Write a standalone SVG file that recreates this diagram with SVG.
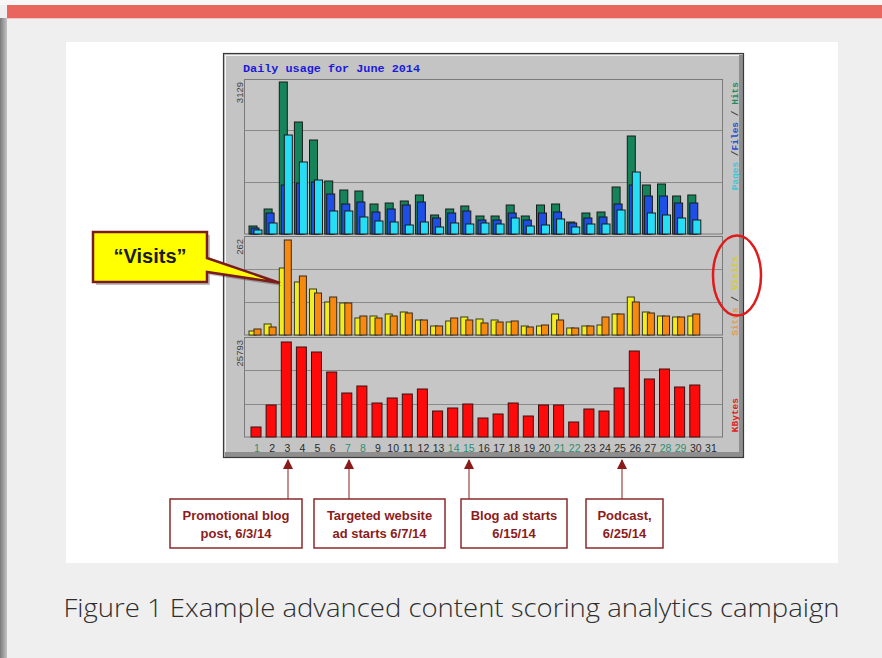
<svg xmlns="http://www.w3.org/2000/svg" width="882" height="658" viewBox="0 0 882 658">
<defs>
<linearGradient id="strip" x1="0" y1="0" x2="1" y2="0"><stop offset="0" stop-color="#7a7a7a"/><stop offset="1" stop-color="#c4c4c4"/></linearGradient>
<marker id="ah" viewBox="0 0 10 10" refX="9" refY="5" markerWidth="7" markerHeight="7" orient="auto"><path d="M0,0 L10,5 L0,10 Z" fill="#8b1a1a"/></marker>
</defs>
<style>
.h{fill:#15845a;stroke:#1a1a1a;stroke-width:1}
.f{fill:#1d4fe6;stroke:#1a1a1a;stroke-width:1}
.p{fill:#25def6;stroke:#1a1a1a;stroke-width:1}
.v{fill:#f2ee1c;stroke:#3a3a1a;stroke-width:1}
.s{fill:#f7890f;stroke:#3a2a1a;stroke-width:1}
.k{fill:#ff0a0a;stroke:#3a1010;stroke-width:1}
.grid{stroke:#8a8a8a;stroke-width:1}
.panel{fill:#c6c6c6;stroke:#7a7a7a;stroke-width:1}
.day{font-family:"Liberation Sans",Arial,sans-serif;font-size:10.5px;fill:#2a2a2a;text-anchor:middle}
.we{fill:#2f8f6f}
.ax{font-family:"Liberation Sans",Arial,sans-serif;font-size:9.5px;fill:#444;text-anchor:end}
.lg{font-family:"Liberation Mono",monospace;font-size:9.5px;font-weight:bold;text-anchor:end}
.box{fill:#ffffff;stroke:#8b2a2a;stroke-width:1.5}
.bt{font-family:"Liberation Sans",Arial,sans-serif;font-size:13px;font-weight:bold;fill:#8b1c1c;text-anchor:middle}
.conn{stroke:#b06a6a;stroke-width:1.5;fill:none}
</style>
<rect x="0" y="0" width="882" height="658" fill="#efefef"/>
<rect x="0" y="0" width="882" height="5" fill="#f7f7f7"/>
<rect x="7" y="5" width="875" height="13" fill="#e8665e"/>
<rect x="7" y="18" width="875" height="1" fill="#f3c6c2"/>
<rect x="0" y="18" width="7" height="640" fill="url(#strip)"/>
<rect x="66" y="42" width="772" height="521" fill="#ffffff"/>

<g id="chart">
<rect x="223" y="53" width="521" height="405" fill="#c4c4c4"/>
<rect x="739" y="55" width="5" height="403" fill="#8e8e8e"/>
<rect x="225" y="452" width="519" height="6" fill="#8e8e8e"/>
<line x1="225" y1="55.5" x2="739" y2="55.5" stroke="#f4f4f4"/>
<line x1="225.5" y1="55" x2="225.5" y2="452" stroke="#f4f4f4"/>
<rect x="223.5" y="53.5" width="520" height="404" fill="none" stroke="#3a3a3a" stroke-width="1.2"/>
<text x="243" y="72" font-family="Liberation Mono,monospace" font-size="11.8" font-weight="bold" fill="#1b1bd8">Daily usage for June 2014</text>
<rect class="panel" x="244.5" y="79.5" width="478" height="154.5"/>
<rect class="panel" x="244.5" y="236.5" width="478" height="98.5"/>
<rect class="panel" x="244.5" y="337.5" width="478" height="99.5"/>
<line class="grid" x1="245" y1="130.5" x2="722" y2="130.5"/>
<line class="grid" x1="245" y1="182.5" x2="722" y2="182.5"/>
<line class="grid" x1="245" y1="269.5" x2="722" y2="269.5"/>
<line class="grid" x1="245" y1="302.5" x2="722" y2="302.5"/>
<line class="grid" x1="245" y1="370.5" x2="722" y2="370.5"/>
<line class="grid" x1="245" y1="404.5" x2="722" y2="404.5"/>
<text class="ax" transform="translate(243,82) rotate(-90)">3129</text>
<text class="ax" transform="translate(243,239) rotate(-90)">262</text>
<text class="ax" transform="translate(243,340) rotate(-90)">25793</text>
<text class="lg" transform="translate(738,82) rotate(-90)"><tspan fill="#3fc6d8">Pages</tspan><tspan fill="#333"> /</tspan><tspan fill="#2a4fd0">Files</tspan><tspan fill="#333"> / </tspan><tspan fill="#1f8a5f">Hits</tspan></text>
<text class="lg" transform="translate(738,256) rotate(-90)"><tspan fill="#e59a55">Sites</tspan><tspan fill="#333"> / </tspan><tspan fill="#d8cf1a">Visits</tspan></text>
<text class="lg" transform="translate(738,398) rotate(-90)" fill="#e02020">KBytes</text>
</g>

<g id="bars">
<g transform="translate(257,0)"><rect class="h" x="-8" y="226" width="8" height="8"/><rect class="f" x="-6" y="228" width="8" height="6"/><rect class="p" x="-3" y="230" width="8" height="4"/><rect class="v" x="-8" y="331" width="7" height="4"/><rect class="s" x="-3" y="329" width="7" height="6"/><rect class="k" x="-6" y="427" width="10" height="10"/></g>
<g transform="translate(272.1,0)"><rect class="h" x="-8" y="209" width="8" height="25"/><rect class="f" x="-6" y="213" width="8" height="21"/><rect class="p" x="-3" y="223" width="8" height="11"/><rect class="v" x="-8" y="324" width="7" height="11"/><rect class="s" x="-3" y="327" width="7" height="8"/><rect class="k" x="-6" y="405" width="10" height="32"/></g>
<g transform="translate(287.3,0)"><rect class="h" x="-8" y="82" width="8" height="152"/><rect class="f" x="-6" y="185" width="8" height="49"/><rect class="p" x="-3" y="135" width="8" height="99"/><rect class="v" x="-8" y="268" width="7" height="67"/><rect class="s" x="-3" y="240" width="7" height="95"/><rect class="k" x="-6" y="342" width="10" height="95"/></g>
<g transform="translate(302.4,0)"><rect class="h" x="-8" y="122" width="8" height="112"/><rect class="f" x="-6" y="183" width="8" height="51"/><rect class="p" x="-3" y="162" width="8" height="72"/><rect class="v" x="-8" y="282" width="7" height="53"/><rect class="s" x="-3" y="276" width="7" height="59"/><rect class="k" x="-6" y="347" width="10" height="90"/></g>
<g transform="translate(317.5,0)"><rect class="h" x="-8" y="140" width="8" height="94"/><rect class="f" x="-6" y="182" width="8" height="52"/><rect class="p" x="-3" y="180" width="8" height="54"/><rect class="v" x="-8" y="289" width="7" height="46"/><rect class="s" x="-3" y="293" width="7" height="42"/><rect class="k" x="-6" y="352" width="10" height="85"/></g>
<g transform="translate(332.7,0)"><rect class="h" x="-8" y="181" width="8" height="53"/><rect class="f" x="-6" y="194" width="8" height="40"/><rect class="p" x="-3" y="211" width="8" height="23"/><rect class="v" x="-8" y="302" width="7" height="33"/><rect class="s" x="-3" y="297" width="7" height="38"/><rect class="k" x="-6" y="372" width="10" height="65"/></g>
<g transform="translate(347.8,0)"><rect class="h" x="-8" y="190" width="8" height="44"/><rect class="f" x="-6" y="204" width="8" height="30"/><rect class="p" x="-3" y="211" width="8" height="23"/><rect class="v" x="-8" y="303" width="7" height="32"/><rect class="s" x="-3" y="303" width="7" height="32"/><rect class="k" x="-6" y="393" width="10" height="44"/></g>
<g transform="translate(362.9,0)"><rect class="h" x="-8" y="191" width="8" height="43"/><rect class="f" x="-6" y="202" width="8" height="32"/><rect class="p" x="-3" y="217" width="8" height="17"/><rect class="v" x="-8" y="318" width="7" height="17"/><rect class="s" x="-3" y="316" width="7" height="19"/><rect class="k" x="-6" y="386" width="10" height="51"/></g>
<g transform="translate(378,0)"><rect class="h" x="-8" y="204" width="8" height="30"/><rect class="f" x="-6" y="212" width="8" height="22"/><rect class="p" x="-3" y="221" width="8" height="13"/><rect class="v" x="-8" y="316" width="7" height="19"/><rect class="s" x="-3" y="318" width="7" height="17"/><rect class="k" x="-6" y="403" width="10" height="34"/></g>
<g transform="translate(393.2,0)"><rect class="h" x="-8" y="203" width="8" height="31"/><rect class="f" x="-6" y="209" width="8" height="25"/><rect class="p" x="-3" y="222" width="8" height="12"/><rect class="v" x="-8" y="314" width="7" height="21"/><rect class="s" x="-3" y="316" width="7" height="19"/><rect class="k" x="-6" y="398" width="10" height="39"/></g>
<g transform="translate(408.3,0)"><rect class="h" x="-8" y="201" width="8" height="33"/><rect class="f" x="-6" y="205" width="8" height="29"/><rect class="p" x="-3" y="225" width="8" height="9"/><rect class="v" x="-8" y="312" width="7" height="23"/><rect class="s" x="-3" y="313" width="7" height="22"/><rect class="k" x="-6" y="394" width="10" height="43"/></g>
<g transform="translate(423.4,0)"><rect class="h" x="-8" y="195" width="8" height="39"/><rect class="f" x="-6" y="202" width="8" height="32"/><rect class="p" x="-3" y="222" width="8" height="12"/><rect class="v" x="-8" y="320" width="7" height="15"/><rect class="s" x="-3" y="320" width="7" height="15"/><rect class="k" x="-6" y="389" width="10" height="48"/></g>
<g transform="translate(438.6,0)"><rect class="h" x="-8" y="215" width="8" height="19"/><rect class="f" x="-6" y="218" width="8" height="16"/><rect class="p" x="-3" y="227" width="8" height="7"/><rect class="v" x="-8" y="326" width="7" height="9"/><rect class="s" x="-3" y="326" width="7" height="9"/><rect class="k" x="-6" y="411" width="10" height="26"/></g>
<g transform="translate(453.7,0)"><rect class="h" x="-8" y="209" width="8" height="25"/><rect class="f" x="-6" y="213" width="8" height="21"/><rect class="p" x="-3" y="223" width="8" height="11"/><rect class="v" x="-8" y="321" width="7" height="14"/><rect class="s" x="-3" y="318" width="7" height="17"/><rect class="k" x="-6" y="408" width="10" height="29"/></g>
<g transform="translate(468.8,0)"><rect class="h" x="-8" y="206" width="8" height="28"/><rect class="f" x="-6" y="211" width="8" height="23"/><rect class="p" x="-3" y="224" width="8" height="10"/><rect class="v" x="-8" y="317" width="7" height="18"/><rect class="s" x="-3" y="320" width="7" height="15"/><rect class="k" x="-6" y="404" width="10" height="33"/></g>
<g transform="translate(484,0)"><rect class="h" x="-8" y="216" width="8" height="18"/><rect class="f" x="-6" y="220" width="8" height="14"/><rect class="p" x="-3" y="223" width="8" height="11"/><rect class="v" x="-8" y="319" width="7" height="16"/><rect class="s" x="-3" y="323" width="7" height="12"/><rect class="k" x="-6" y="418" width="10" height="19"/></g>
<g transform="translate(499.1,0)"><rect class="h" x="-8" y="216" width="8" height="18"/><rect class="f" x="-6" y="220" width="8" height="14"/><rect class="p" x="-3" y="224" width="8" height="10"/><rect class="v" x="-8" y="320" width="7" height="15"/><rect class="s" x="-3" y="322" width="7" height="13"/><rect class="k" x="-6" y="414" width="10" height="23"/></g>
<g transform="translate(514.2,0)"><rect class="h" x="-8" y="205" width="8" height="29"/><rect class="f" x="-6" y="213" width="8" height="21"/><rect class="p" x="-3" y="218" width="8" height="16"/><rect class="v" x="-8" y="322" width="7" height="13"/><rect class="s" x="-3" y="321" width="7" height="14"/><rect class="k" x="-6" y="403" width="10" height="34"/></g>
<g transform="translate(529.3,0)"><rect class="h" x="-8" y="216" width="8" height="18"/><rect class="f" x="-6" y="220" width="8" height="14"/><rect class="p" x="-3" y="226" width="8" height="8"/><rect class="v" x="-8" y="326" width="7" height="9"/><rect class="s" x="-3" y="327" width="7" height="8"/><rect class="k" x="-6" y="416" width="10" height="21"/></g>
<g transform="translate(544.5,0)"><rect class="h" x="-8" y="205" width="8" height="29"/><rect class="f" x="-6" y="213" width="8" height="21"/><rect class="p" x="-3" y="225" width="8" height="9"/><rect class="v" x="-8" y="326" width="7" height="9"/><rect class="s" x="-3" y="325" width="7" height="10"/><rect class="k" x="-6" y="405" width="10" height="32"/></g>
<g transform="translate(559.6,0)"><rect class="h" x="-8" y="204" width="8" height="30"/><rect class="f" x="-6" y="212" width="8" height="22"/><rect class="p" x="-3" y="219" width="8" height="15"/><rect class="v" x="-8" y="314" width="7" height="21"/><rect class="s" x="-3" y="320" width="7" height="15"/><rect class="k" x="-6" y="405" width="10" height="32"/></g>
<g transform="translate(574.7,0)"><rect class="h" x="-8" y="222" width="8" height="12"/><rect class="f" x="-6" y="223" width="8" height="11"/><rect class="p" x="-3" y="227" width="8" height="7"/><rect class="v" x="-8" y="328" width="7" height="7"/><rect class="s" x="-3" y="328" width="7" height="7"/><rect class="k" x="-6" y="422" width="10" height="15"/></g>
<g transform="translate(589.9,0)"><rect class="h" x="-8" y="213" width="8" height="21"/><rect class="f" x="-6" y="218" width="8" height="16"/><rect class="p" x="-3" y="224" width="8" height="10"/><rect class="v" x="-8" y="326" width="7" height="9"/><rect class="s" x="-3" y="326" width="7" height="9"/><rect class="k" x="-6" y="409" width="10" height="28"/></g>
<g transform="translate(605,0)"><rect class="h" x="-8" y="212" width="8" height="22"/><rect class="f" x="-6" y="217" width="8" height="17"/><rect class="p" x="-3" y="224" width="8" height="10"/><rect class="v" x="-8" y="325" width="7" height="10"/><rect class="s" x="-3" y="317" width="7" height="18"/><rect class="k" x="-6" y="411" width="10" height="26"/></g>
<g transform="translate(620.1,0)"><rect class="h" x="-8" y="187" width="8" height="47"/><rect class="f" x="-6" y="204" width="8" height="30"/><rect class="p" x="-3" y="210" width="8" height="24"/><rect class="v" x="-8" y="314" width="7" height="21"/><rect class="s" x="-3" y="314" width="7" height="21"/><rect class="k" x="-6" y="388" width="10" height="49"/></g>
<g transform="translate(635.3,0)"><rect class="h" x="-8" y="136" width="8" height="98"/><rect class="f" x="-6" y="185" width="8" height="49"/><rect class="p" x="-3" y="172" width="8" height="62"/><rect class="v" x="-8" y="297" width="7" height="38"/><rect class="s" x="-3" y="302" width="7" height="33"/><rect class="k" x="-6" y="351" width="10" height="86"/></g>
<g transform="translate(650.4,0)"><rect class="h" x="-8" y="185" width="8" height="49"/><rect class="f" x="-6" y="196" width="8" height="38"/><rect class="p" x="-3" y="213" width="8" height="21"/><rect class="v" x="-8" y="312" width="7" height="23"/><rect class="s" x="-3" y="313" width="7" height="22"/><rect class="k" x="-6" y="379" width="10" height="58"/></g>
<g transform="translate(665.5,0)"><rect class="h" x="-8" y="184" width="8" height="50"/><rect class="f" x="-6" y="196" width="8" height="38"/><rect class="p" x="-3" y="215" width="8" height="19"/><rect class="v" x="-8" y="316" width="7" height="19"/><rect class="s" x="-3" y="316" width="7" height="19"/><rect class="k" x="-6" y="369" width="10" height="68"/></g>
<g transform="translate(680.6,0)"><rect class="h" x="-8" y="196" width="8" height="38"/><rect class="f" x="-6" y="203" width="8" height="31"/><rect class="p" x="-3" y="218" width="8" height="16"/><rect class="v" x="-8" y="317" width="7" height="18"/><rect class="s" x="-3" y="317" width="7" height="18"/><rect class="k" x="-6" y="387" width="10" height="50"/></g>
<g transform="translate(695.8,0)"><rect class="h" x="-8" y="195" width="8" height="39"/><rect class="f" x="-6" y="203" width="8" height="31"/><rect class="p" x="-3" y="220" width="8" height="14"/><rect class="v" x="-8" y="316" width="7" height="19"/><rect class="s" x="-3" y="314" width="7" height="21"/><rect class="k" x="-6" y="385" width="10" height="52"/></g>
</g>

<g id="days">
<text class="day we" x="257" y="452">1</text><text class="day" x="272.1" y="452">2</text><text class="day" x="287.3" y="452">3</text><text class="day" x="302.4" y="452">4</text><text class="day" x="317.5" y="452">5</text><text class="day" x="332.7" y="452">6</text><text class="day we" x="347.8" y="452">7</text><text class="day we" x="362.9" y="452">8</text><text class="day" x="378" y="452">9</text><text class="day" x="393.2" y="452">10</text><text class="day" x="408.3" y="452">11</text><text class="day" x="423.4" y="452">12</text><text class="day" x="438.6" y="452">13</text><text class="day we" x="453.7" y="452">14</text><text class="day we" x="468.8" y="452">15</text><text class="day" x="484" y="452">16</text><text class="day" x="499.1" y="452">17</text><text class="day" x="514.2" y="452">18</text><text class="day" x="529.3" y="452">19</text><text class="day" x="544.5" y="452">20</text><text class="day we" x="559.6" y="452">21</text><text class="day we" x="574.7" y="452">22</text><text class="day" x="589.9" y="452">23</text><text class="day" x="605" y="452">24</text><text class="day" x="620.1" y="452">25</text><text class="day" x="635.3" y="452">26</text><text class="day" x="650.4" y="452">27</text><text class="day we" x="665.5" y="452">28</text><text class="day we" x="680.6" y="452">29</text><text class="day" x="695.8" y="452">30</text><text class="day" x="710.9" y="452">31</text>
</g>

<g id="highlight-ellipse">
<ellipse cx="737" cy="275.5" rx="24" ry="40" fill="none" stroke="#e01b1b" stroke-width="2.5"/>
</g>

<g id="callout-visits">
<path d="M96,235 H210 V261 L283,286 L210,275 V285 H96 Z" fill="#000" opacity="0.25"/>
<path d="M93,232 H207 V258 L280,283 L207,272 V282 H93 Z" fill="#ffff00" stroke="#7a1c1c" stroke-width="2.5" stroke-linejoin="miter"/>
<text x="150" y="263" font-family="Liberation Sans,Arial,sans-serif" font-size="20" font-weight="bold" fill="#1a1a1a" text-anchor="middle">“Visits”</text>
</g>

<g id="connectors">
<line class="conn" x1="288" y1="499" x2="288" y2="460" marker-end="url(#ah)"/>
<line class="conn" x1="349" y1="499" x2="349" y2="460" marker-end="url(#ah)"/>
<line class="conn" x1="469" y1="499" x2="469" y2="460" marker-end="url(#ah)"/>
<line class="conn" x1="622" y1="499" x2="622" y2="460" marker-end="url(#ah)"/>
</g>

<g id="note-promo">
<rect class="box" x="170" y="499" width="132" height="49"/>
<text class="bt" x="236" y="520">Promotional blog</text>
<text class="bt" x="236" y="538">post, 6/3/14</text>
</g>
<g id="note-targeted">
<rect class="box" x="314" y="499" width="131" height="49"/>
<text class="bt" x="379.5" y="520">Targeted website</text>
<text class="bt" x="379.5" y="538">ad starts 6/7/14</text>
</g>
<g id="note-blog">
<rect class="box" x="461" y="499" width="106" height="49"/>
<text class="bt" x="514" y="520">Blog ad starts</text>
<text class="bt" x="514" y="538">6/15/14</text>
</g>
<g id="note-podcast">
<rect class="box" x="586" y="499" width="77" height="49"/>
<text class="bt" x="624.5" y="520">Podcast,</text>
<text class="bt" x="624.5" y="538">6/25/14</text>
</g>

<text x="451.5" y="617" font-family="Open Sans,Liberation Sans,sans-serif" font-weight="300" font-size="26" fill="#2e2e2e" text-anchor="middle" textLength="776" lengthAdjust="spacingAndGlyphs">Figure 1 Example advanced content scoring analytics campaign</text>
</svg>
